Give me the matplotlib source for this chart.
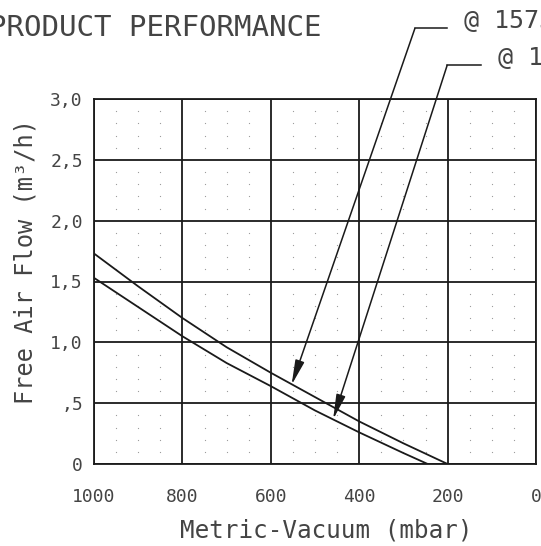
import numpy as np
import matplotlib
matplotlib.use("Agg")
import matplotlib.pyplot as plt

# curve readings (vacuum in mbar, free air flow in m3/h)
vac_1575 = [1000, 900, 800, 700, 600, 500, 400, 300, 200]
flow_1575 = [1.73, 1.46, 1.20, 0.96, 0.75, 0.55, 0.35, 0.17, 0.0]
vac_12 = [1000, 900, 800, 700, 600, 500, 400, 300, 245]
flow_12 = [1.53, 1.29, 1.05, 0.83, 0.64, 0.44, 0.26, 0.09, 0.0]

x_ticks = [1000, 800, 600, 400, 200, 0]
x_labels = ["1000", "800", "600", "400", "200", "0"]
y_ticks = [0, 0.5, 1.0, 1.5, 2.0, 2.5, 3.0]
y_labels = ["0", ",5", "1,0", "1,5", "2,0", "2,5", "3,0"]

# callouts: arrow tip on curve, elbow above chart, end of leader, label
lab_1575 = "@ 1575"
tip_1575 = (553, 0.65)
elbow_1575 = (274, 3.58)
end_1575 = (201, 3.58)
lab_12 = "@ 12"
tip_12 = (459, 0.367)
elbow_12 = (201, 3.277)
end_12 = (125, 3.277)

plt.rcParams['font.family'] = ['DejaVu Sans Mono', 'DejaVu Sans']
txt = '#444444'
ln = '#1a1a1a'

fig = plt.figure(figsize=(5.41, 5.46), dpi=100)
ax = fig.add_axes([94/541, 82/546, 442/541, 365/546])

ax.set_xlim(1000, 0)
ax.set_ylim(0, 3.0)

# dotted minor grid: dots at minor intersections only
mx = [v for v in np.arange(0, 1001, 50) if v % 200 != 0]
my = [v for v in np.arange(0, 3.01, 0.1) if abs(v / 0.5 - round(v / 0.5)) > 1e-6]
gx, gy = np.meshgrid(mx, my)
ax.scatter(gx.ravel(), gy.ravel(), s=0.8, color='#9a9a9a', lw=0, zorder=1)

for v in x_ticks:
    ax.axvline(v, color=ln, lw=1.3, zorder=2)
for v in y_ticks:
    ax.axhline(v, color=ln, lw=1.3, zorder=2)

ax.plot(vac_1575, flow_1575, color=ln, lw=1.3, zorder=3)
ax.plot(vac_12, flow_12, color=ln, lw=1.3, zorder=3)

for tip, elbow, end, lab in [(tip_1575, elbow_1575, end_1575, lab_1575),
                             (tip_12, elbow_12, end_12, lab_12)]:
    ax.annotate("", xy=tip, xytext=elbow, annotation_clip=False,
                arrowprops=dict(arrowstyle='-|>,head_length=1.5,head_width=0.28',
                                mutation_scale=10, color=ln, lw=1.1,
                                shrinkA=0, shrinkB=0), zorder=4)
    ax.plot([elbow[0], end[0]], [elbow[1], end[1]], color=ln, lw=1.1,
            clip_on=False, zorder=4)
    ax.text(end[0] - 38, end[1], lab, fontsize=18, color=txt,
            ha='left', va='baseline', clip_on=False)

for s in ax.spines.values():
    s.set_color(ln)
    s.set_linewidth(1.3)

ax.set_xticks(x_ticks)
ax.set_xticklabels(x_labels)
ax.set_yticks(y_ticks)
ax.set_yticklabels(y_labels)
ax.tick_params(axis='x', length=0, pad=17, labelsize=13, labelcolor=txt)
ax.tick_params(axis='y', length=0, pad=8, labelsize=13, labelcolor=txt)

ax.set_xlabel("Metric-Vacuum (mbar)", fontsize=17.5, color=txt, va='center')
ax.xaxis.set_label_coords(0.525, -0.181)
ax.set_ylabel("Free Air Flow (m³/h)", fontsize=17, color=txt, va='center')
ax.yaxis.set_label_coords(-0.156, 0.556)

fig.text(-11/541, 1 - 36/546, "PRODUCT PERFORMANCE", fontsize=21,
         color=txt, ha='left', va='baseline')

fig.savefig("out.png", dpi=100)
